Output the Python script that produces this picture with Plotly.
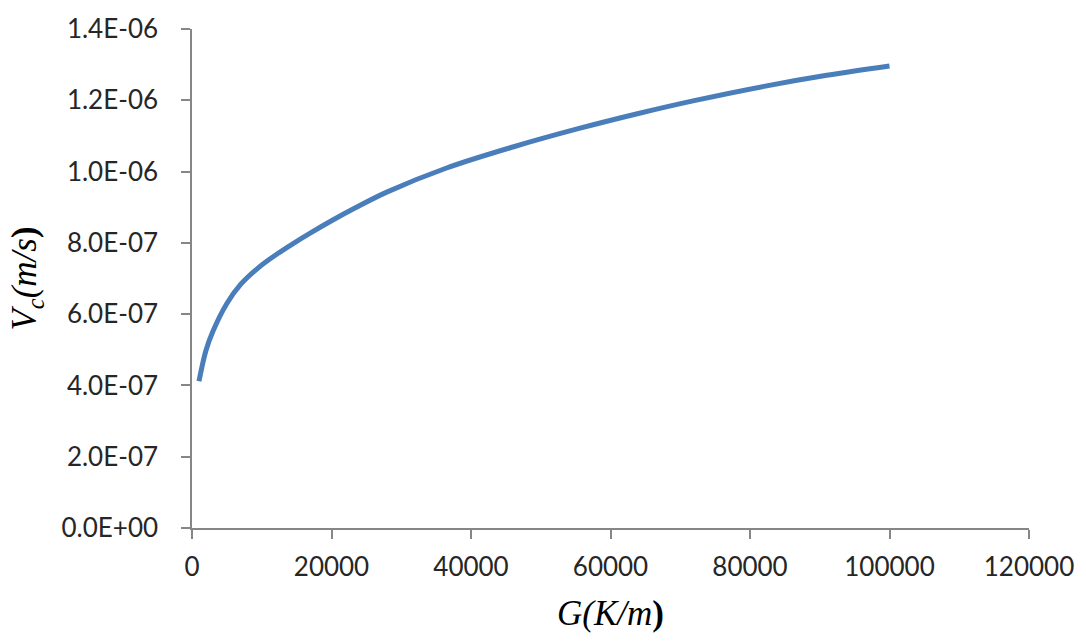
import plotly.graph_objects as go

# Temperature gradient G (K/m) and critical velocity Vc (m/s)
g_values = [1000, 2000, 3000, 5000, 7000, 9500, 12000, 14500, 17000, 20000,
            23500, 28000, 36500, 46000, 55500, 64000, 72000, 82000, 91000, 100000]
vc_values = [4.12e-7, 4.98e-7, 5.52e-7, 6.30e-7, 6.84e-7, 7.30e-7, 7.66e-7,
             7.98e-7, 8.28e-7, 8.62e-7, 8.99e-7, 9.43e-7, 1.010e-6, 1.069e-6,
             1.121e-6, 1.163e-6, 1.199e-6, 1.239e-6, 1.270e-6, 1.296e-6]

x_tick_vals = [0, 20000, 40000, 60000, 80000, 100000, 120000]
x_tick_text = ["0", "20000", "40000", "60000", "80000", "100000", "120000"]
y_tick_vals = [0, 2e-7, 4e-7, 6e-7, 8e-7, 1.0e-6, 1.2e-6, 1.4e-6]
y_tick_text = ["0.0E+00", "2.0E-07", "4.0E-07", "6.0E-07", "8.0E-07",
               "1.0E-06", "1.2E-06", "1.4E-06"]

AXIS_GRAY = "#868686"
TICK_FONT = dict(family="Lato, 'Open Sans', sans-serif", size=26, color="#262626")
TITLE_FONT = dict(family="'Liberation Serif', 'Times New Roman', serif", size=35, color="#000000")

fig = go.Figure()
fig.add_trace(go.Scatter(
    x=g_values, y=vc_values, mode="lines",
    line=dict(color="#4A7EBB", width=5, shape="spline", smoothing=1.0),
    showlegend=False, hoverinfo="x+y",
))

fig.update_layout(
    width=1086, height=644,
    margin=dict(l=192, r=54, t=24, b=116),
    paper_bgcolor="white", plot_bgcolor="white",
)

fig.update_xaxes(
    range=[0, 120000], tickvals=x_tick_vals, ticktext=x_tick_text,
    showgrid=False, zeroline=False,
    showline=True, linecolor=AXIS_GRAY, linewidth=1.5,
    ticks="outside", ticklen=9, tickwidth=1.5, tickcolor=AXIS_GRAY,
    tickfont=TICK_FONT, ticklabelstandoff=6,
    title=dict(text="<i>G(K/m</i><b>)</b>", font=TITLE_FONT, standoff=20),
)
fig.update_yaxes(
    range=[0, 1.4e-6], tickvals=y_tick_vals, ticktext=y_tick_text,
    showgrid=False, zeroline=False,
    showline=True, linecolor=AXIS_GRAY, linewidth=1.5,
    ticks="outside", ticklen=9, tickwidth=1.5, tickcolor=AXIS_GRAY,
    tickfont=TICK_FONT, ticklabelstandoff=18,
    title=dict(text="<i>V<sub>c</sub>(m/s</i><b>)</b>", font=TITLE_FONT, standoff=14),
)

fig.write_html("out.html")
